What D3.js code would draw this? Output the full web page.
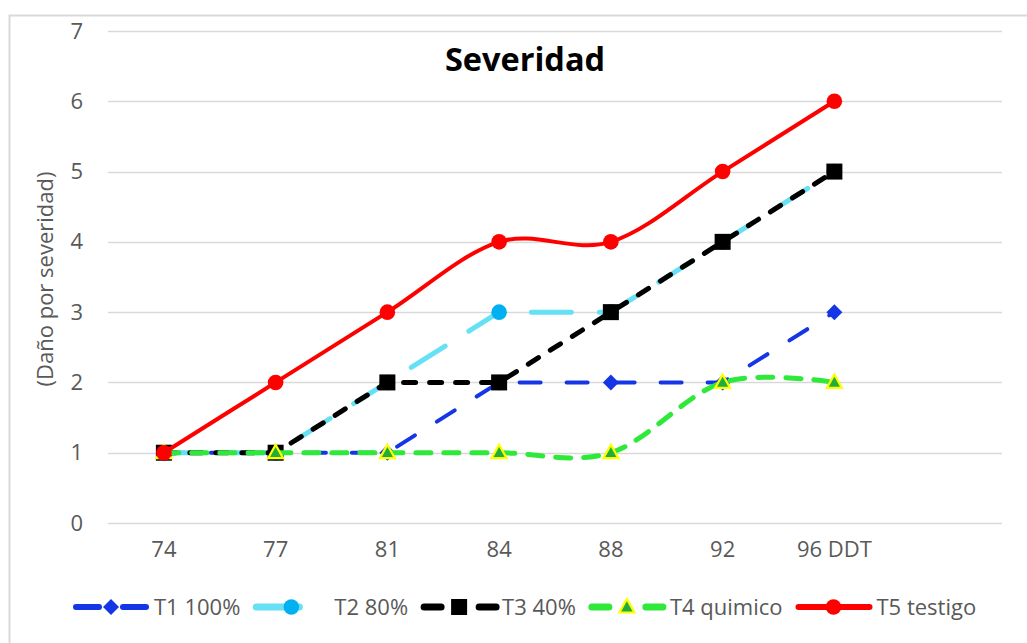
<!DOCTYPE html>
<html>
<head>
<meta charset="utf-8">
<script src="https://cdn.jsdelivr.net/npm/d3@7"></script>
<style>
  body { margin: 0; background: #fff; }
  text { font-family: "Open Sans", sans-serif; }
</style>
</head>
<body>
<script>
// data
const categories = ["74", "77", "81", "84", "88", "92", "96 DDT", ""];
const seriesNames = ["T1 100%", "T2 80%", "T3 40%", "T4 quimico", "T5 testigo"];
const t1 = [1, 1, 1, 2, 2, 2, 3];
const t2 = [1, 1, 2, 3, 3, 4, 5];
const t3 = [1, 1, 2, 2, 3, 4, 5];
const t4 = [1, 1, 1, 1, 1, 2, 2];
const t5 = [1, 2, 3, 4, 4, 5, 6];
const yTicks = [0, 1, 2, 3, 4, 5, 6, 7];

const W = 1027, H = 643;
const plot = {left: 108, right: 1002, top: 31, bottom: 523};

// style per series; leg = legend line pieces (offsets from item start)
const styles = [
  {values: t1, color: "#1436e6", width: 4, dash: "21,26", smooth: false, marker: "diamond", mfill: "#1436e6", mstroke: "none", leg: [[3, 26], [50, 73]]},
  {values: t2, color: "#66e0f5", width: 5, dash: "40,28", smooth: false, marker: "circle", mfill: "#00b0f0", mstroke: "none", leg: [[3, 46]]},
  {values: t3, color: "#000000", width: 5, dash: "12,14", smooth: false, marker: "square", mfill: "#000000", mstroke: "none", leg: [[3, 20], [58, 75]]},
  {values: t4, color: "#2ee83a", width: 5, dash: "15,13", smooth: true, marker: "triangle", mfill: "#1fae3c", mstroke: "#ffff00", leg: [[3, 20], [57, 74]]},
  {values: t5, color: "#ff0000", width: 4, dash: null, smooth: true, marker: "circle", mfill: "#ff0000", mstroke: "none", leg: [[3, 74]]}
];

const svg = d3.select("body").append("svg")
    .attr("width", W)
    .attr("height", H);

// chart frame (only top/left visible)
svg.append("rect")
    .attr("x", 9.5).attr("y", 15.5)
    .attr("width", W + 20).attr("height", H + 20)
    .attr("fill", "#fff")
    .attr("stroke", "#d9d9d9")
    .attr("stroke-width", 2);

var xScale = d3.scaleBand()
    .domain(categories)
    .range([plot.left, plot.right]);

var yScale = d3.scaleLinear()
    .domain([0, 7])
    .range([plot.bottom, plot.top]);

function cx(i) { return xScale(categories[i]) + xScale.bandwidth() / 2; }

// gridlines
svg.append("g").selectAll("line")
    .data(yTicks)
    .join("line")
    .attr("x1", plot.left).attr("x2", plot.right)
    .attr("y1", d => Math.round(yScale(d)) + 0.5)
    .attr("y2", d => Math.round(yScale(d)) + 0.5)
    .attr("stroke", "#d9d9d9")
    .attr("stroke-width", 1.5);

// y axis labels
var yAxis = d3.axisLeft(yScale).tickValues(yTicks).tickFormat(d3.format("d")).tickSize(0).tickPadding(25);
svg.append("g")
    .attr("class", "y axis")
    .attr("transform", "translate(" + plot.left + ",0)")
    .call(yAxis)
    .call(g => g.select(".domain").remove())
    .call(g => g.selectAll("text")
        .attr("fill", "#595959")
        .style("font-size", "22px")
        .style("font-family", "Open Sans"));

// x axis labels
var xAxis = d3.axisBottom(xScale).tickSize(0).tickPadding(18);
svg.append("g")
    .attr("class", "x axis")
    .attr("transform", "translate(0," + plot.bottom + ")")
    .call(xAxis)
    .call(g => g.select(".domain").remove())
    .call(g => g.selectAll("text")
        .attr("fill", "#595959")
        .style("font-size", "22px")
        .style("font-family", "Open Sans"));

// title
svg.append("text")
    .attr("x", 525).attr("y", 71)
    .attr("text-anchor", "middle")
    .attr("font-size", 32.5)
    .attr("font-weight", "bold")
    .attr("fill", "#000")
    .text("Severidad");

// y axis title
svg.append("text")
    .attr("transform", "translate(53,279) rotate(-90)")
    .attr("text-anchor", "middle")
    .attr("font-size", 22)
    .attr("fill", "#595959")
    .text("(Daño por severidad)");

function drawMarker(g, type, x, y, fill, stroke) {
    if (type === "circle") {
        g.append("circle").attr("cx", x).attr("cy", y).attr("r", 7.8)
            .attr("fill", fill);
    } else if (type === "square") {
        g.append("rect").attr("x", x - 8).attr("y", y - 8).attr("width", 16).attr("height", 16)
            .attr("fill", fill);
    } else if (type === "diamond") {
        g.append("path").attr("d", `M${x},${y - 8}L${x + 8},${y}L${x},${y + 8}L${x - 8},${y}Z`)
            .attr("fill", fill);
    } else if (type === "triangle") {
        g.append("path").attr("d", `M${x},${y - 8}L${x + 7.5},${y + 5.5}L${x - 7.5},${y + 5.5}Z`)
            .attr("fill", fill).attr("stroke", stroke).attr("stroke-width", 2.2)
            .attr("stroke-linejoin", "miter");
    }
}

// series, drawn in order so T5 ends on top
styles.forEach(function(s) {
    var line = d3.line()
        .x((d, i) => cx(i))
        .y(d => yScale(d))
        .curve(s.smooth ? d3.curveCatmullRom.alpha(0) : d3.curveLinear);
    var g = svg.append("g");
    g.append("path")
        .datum(s.values)
        .attr("d", line)
        .attr("fill", "none")
        .attr("stroke", s.color)
        .attr("stroke-width", s.width)
        .attr("stroke-dasharray", s.dash)
        .attr("stroke-linecap", "round")
        .attr("stroke-linejoin", "round");
    s.values.forEach(function(v, i) {
        drawMarker(g, s.marker, cx(i), yScale(v), s.mfill, s.mstroke);
    });
});

// legend
var lx = 73, ly = 607;
styles.forEach(function(s, k) {
    var g = svg.append("g");
    s.leg.forEach(function(p) {
        g.append("line")
            .attr("x1", lx + p[0]).attr("x2", lx + p[1])
            .attr("y1", ly).attr("y2", ly)
            .attr("stroke", s.color)
            .attr("stroke-width", s.width + 2)
            .attr("stroke-linecap", "round");
    });
    drawMarker(g, s.marker, lx + 38, ly, s.mfill, s.mstroke);
    var t = g.append("text")
        .attr("x", lx + 81).attr("y", ly + 8)
        .attr("font-size", 22)
        .attr("fill", "#595959")
        .text(seriesNames[k]);
    lx = lx + 81 + t.node().getComputedTextLength() + 13;
});
</script>
</body>
</html>
